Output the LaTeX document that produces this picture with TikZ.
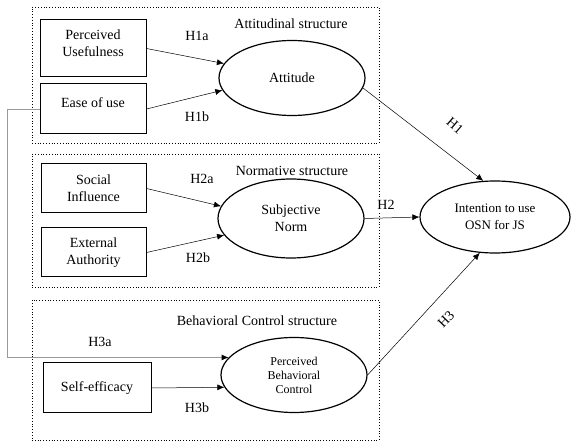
\documentclass[tikz,border=0pt]{standalone}
\usepackage{fontspec}
\setmainfont{Liberation Serif}
\usetikzlibrary{arrows.meta,shapes.geometric}
\begin{document}
\begin{tikzpicture}[x=1pt,y=-1pt,
  dotbox/.style={draw, dotted, line width=0.8pt, minimum width=347pt, inner sep=0pt},
  vbox/.style={draw, line width=1pt, align=center, inner sep=0pt, font=\fontsize{14}{17}\selectfont},
  oval/.style={draw, ellipse, line width=1.2pt, inner sep=0pt, minimum width=146pt, align=center, font=\fontsize{14}{17}\selectfont},
  arr/.style={-{Latex[length=7pt,width=6pt,color=black]}, line width=0.5pt},
  lab/.style={font=\fontsize{14}{17}\selectfont, inner sep=0pt, align=center}]
\useasboundingbox (0,0) rectangle (571,443);

% structure frames
\node[dotbox, minimum height=136pt] (s1) at (205.5,75) {};
\node[dotbox, minimum height=133pt] (s2) at (205.5,220.5) {};
\node[dotbox, minimum height=140pt] (s3) at (205.5,370) {};

\node[lab] (t1) at (291,24) {Attitudinal structure};
\node[lab] (t2) at (292,171) {Normative structure};
\node[lab] (t3) at (257,321) {Behavioral Control structure};

% boxes
\node[vbox, minimum width=106pt, minimum height=57pt] (pu) at (93,48.5) {};
\node[lab] (pul) at (93,43.5) {Perceived\\Usefulness};
\node[vbox, minimum width=106pt, minimum height=50pt] (eou) at (93,109) {};
\node[lab] (eoul) at (93,103) {Ease of use};
\node[vbox, minimum width=105pt, minimum height=49pt] (si) at (93.5,188.5) {Social\\Influence};
\node[vbox, minimum width=105pt, minimum height=49pt] (ea) at (93.5,252.5) {External\\Authority};
\node[vbox, minimum width=108pt, minimum height=50pt] (se) at (97,388) {Self-efficacy};

% ellipses
\node[oval, minimum height=75pt] (att) at (292,78) {Attitude};
\node[oval, minimum height=79pt] (sn) at (291,218.5) {Subjective\\Norm};
\node[oval, minimum height=75pt, font=\fontsize{12}{14}\selectfont] (pbc) at (294,375) {Perceived\\Behavioral\\Control};
\node[oval, minimum width=150pt, minimum height=72pt, font=\fontsize{13}{17}\selectfont] (int) at (495,217) {Intention to use\\OSN for JS};

% arrows
\draw[arr] (pu.east) -- (att.168);
\draw[arr] (eou.east) -- (att.190);
\draw[arr] (si.east) -- (sn.170);
\draw[arr] (ea.east) -- (sn.194);
\draw[arr] (se.east) -- (pbc.190.7);
\coordinate (lc) at (7,111);
\draw[arr, draw=gray!80, line width=0.8pt] (eou.west) -- (eou.west -| lc) |- (pbc.165);
\draw[arr] (att.-8) -- (int.108);
\draw[arr] (sn.east) -- (int.west);
\draw[arr] (pbc.east) -- (int.247);

% labels
\node[lab] (h1a) at (197,36) {H1a};
\node[lab] (h1b) at (197,117) {H1b};
\node[lab] (h2a) at (202,179) {H2a};
\node[lab] (h2b) at (198,258) {H2b};
\node[lab] (h3a) at (100,342) {H3a};
\node[lab] (h3b) at (197,408) {H3b};
\node[lab, rotate=-41] (h1) at (455,126) {H1};
\node[lab, fill=white, inner sep=1pt] (h2) at (386,205) {H2};
\node[lab, rotate=46] (h3) at (446,319) {H3};
\end{tikzpicture}
\end{document}
